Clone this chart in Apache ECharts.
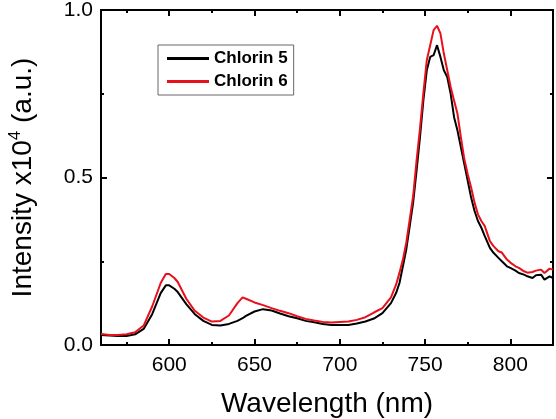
<!DOCTYPE html>
<html><head><meta charset="utf-8">
<script src="https://cdn.jsdelivr.net/npm/echarts@6/dist/echarts.min.js"></script>
<style>html,body{margin:0;padding:0;background:#fff}#c{width:556px;height:419px}</style>
</head><body><div id="c"></div>
<script>
var wavelengths = [560,565,570,575,580,585,590,595,598,600,603,605,610,615,620,625,630,635,640,643,645,650,655,660,665,670,675,680,685,690,695,700,705,710,715,720,725,730,733,735,737,739,741,743,745,747,749,751,753,755,757,759,761,763,765,767,769,771,773,775,777,779,781,783,785,788,790,793,795,798,800,803,805,808,810,813,815,818,820,823,825];
var chlorin5 = [0.030,0.028,0.027,0.027,0.032,0.048,0.092,0.155,0.178,0.178,0.168,0.158,0.122,0.092,0.072,0.060,0.058,0.063,0.072,0.080,0.087,0.100,0.107,0.103,0.094,0.086,0.080,0.072,0.068,0.063,0.060,0.060,0.060,0.064,0.070,0.079,0.095,0.125,0.155,0.185,0.235,0.286,0.355,0.425,0.52,0.62,0.73,0.82,0.86,0.865,0.895,0.86,0.82,0.80,0.75,0.68,0.64,0.59,0.54,0.49,0.44,0.40,0.37,0.35,0.325,0.29,0.276,0.26,0.25,0.235,0.23,0.222,0.215,0.21,0.205,0.20,0.208,0.21,0.195,0.205,0.20];
var chlorin6 = [0.033,0.030,0.030,0.032,0.038,0.058,0.115,0.185,0.212,0.212,0.200,0.188,0.138,0.102,0.082,0.070,0.072,0.088,0.125,0.142,0.138,0.127,0.119,0.110,0.102,0.095,0.086,0.078,0.073,0.069,0.067,0.069,0.070,0.075,0.083,0.097,0.110,0.142,0.18,0.216,0.255,0.306,0.375,0.444,0.55,0.645,0.752,0.85,0.895,0.94,0.953,0.93,0.87,0.82,0.77,0.73,0.69,0.62,0.555,0.51,0.47,0.425,0.39,0.37,0.355,0.31,0.296,0.28,0.276,0.255,0.246,0.235,0.23,0.22,0.216,0.218,0.222,0.225,0.215,0.228,0.225];
var xMajorTicks = [600,650,700,750,800];
var xMinorTicks = [575,625,675,725,775,825];

function pairs(ys){ return wavelengths.map(function(x,i){ return [x, ys[i]]; }); }

var FONT = 'Liberation Sans, Arial, sans-serif';
var axisLine = {show:true, lineStyle:{color:'#000', width:2}};
function xAx(pos, major, showLabel){
  return {
    type:'value', position:pos, min:560, max:825,
    axisLine: axisLine, splitLine:{show:false},
    axisTick:{show:true, inside:true, length: major?6:3, lineStyle:{color:'#000', width:2},
      customValues: major?xMajorTicks:xMinorTicks},
    axisLabel:{show:showLabel, customValues:xMajorTicks, color:'#000', fontSize:21, fontFamily:FONT, margin:10}
  };
}
function yAx(pos, showLabel){
  return {
    type:'value', position:pos, min:0, max:1, interval:0.5,
    axisLine: axisLine, splitLine:{show:false},
    axisTick:{show:true, inside:true, length:6, lineStyle:{color:'#000', width:2}},
    minorTick:{show:true, splitNumber:2, length:3, lineStyle:{color:'#000', width:2}},
    axisLabel:{show:showLabel, color:'#000', fontSize:21, fontFamily:FONT, margin:8,
      formatter:function(v){ return v.toFixed(1); }}
  };
}

var chart = echarts.init(document.getElementById('c'), null, {renderer:'canvas'});
var xa0 = xAx('bottom', true, true);
xa0.name = 'Wavelength (nm)';
xa0.nameLocation = 'middle';
xa0.nameGap = 45;
xa0.nameTextStyle = {color:'#000', fontSize:28, fontFamily:FONT};
var ya0 = yAx('left', true);
ya0.name = '{a|Intensity x10}{b|4}{a| (a.u.)}';
ya0.nameLocation = 'middle';
ya0.nameRotate = 90;
ya0.nameGap = 62;
ya0.nameTextStyle = {color:'#000', rich:{
  a:{fontSize:28, fontFamily:FONT, color:'#000'},
  b:{fontSize:17, fontFamily:FONT, color:'#000', padding:[0,0,15,0]}
}};

chart.setOption({
  animation:false,
  backgroundColor:'#fff',
  grid:{left:101, right:3, top:10, bottom:74, containLabel:false, outerBoundsMode:'none'},
  legend:{
    left:158, top:45, orient:'vertical', icon:'rect', itemWidth:42, itemHeight:3,
    itemGap:6, padding:[5,6,5,9], borderColor:'#666', borderWidth:1,
    textStyle:{color:'#000', fontSize:17, fontWeight:'bold', fontFamily:FONT},
    data:['Chlorin 5','Chlorin 6']
  },
  xAxis:[xa0, xAx('bottom', false, false), xAx('top', true, false), xAx('top', false, false)],
  yAxis:[ya0, yAx('right', false)],
  series:[
    {name:'Chlorin 5', type:'line', data:pairs(chlorin5), showSymbol:false, symbol:'none',
      lineStyle:{color:'#000', width:2}, itemStyle:{color:'#000'}},
    {name:'Chlorin 6', type:'line', data:pairs(chlorin6), showSymbol:false, symbol:'none',
      lineStyle:{color:'#e8101a', width:2}, itemStyle:{color:'#e8101a'}}
  ]
});
</script></body></html>
